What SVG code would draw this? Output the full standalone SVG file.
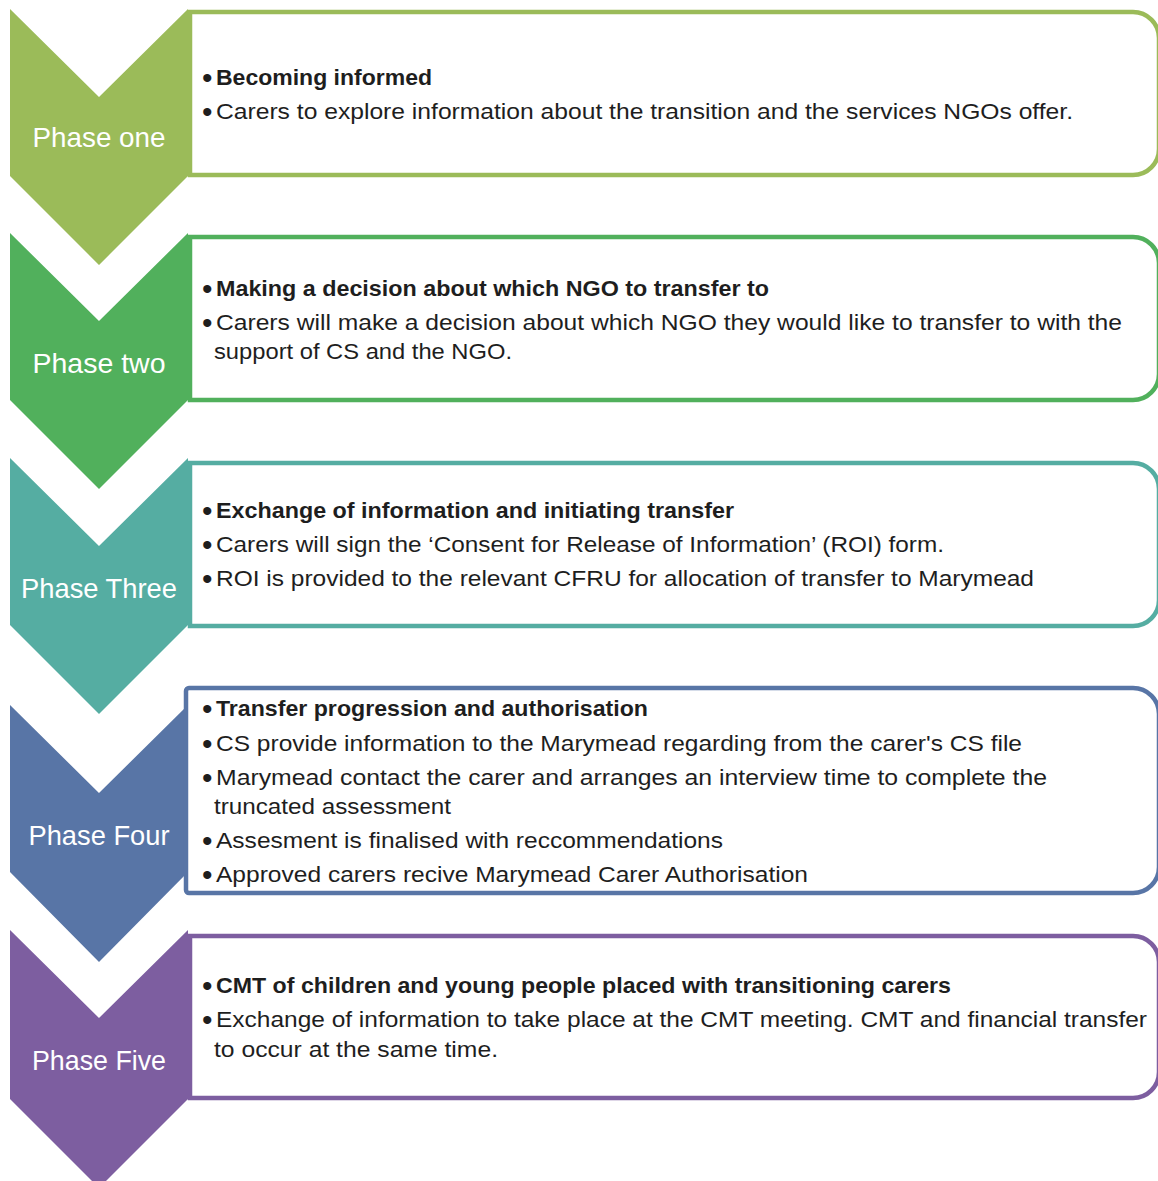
<svg xmlns="http://www.w3.org/2000/svg" width="1158" height="1181" viewBox="0 0 1158 1181">
  <style>
    .box { fill: #ffffff; stroke-width: 4.5; }
    .label { font-family: "Liberation Sans", Arial, sans-serif; font-size: 28px; fill: #ffffff; text-anchor: middle; }
    .b { font-family: "Liberation Sans", Arial, sans-serif; font-size: 30px; fill: #1e1e1e; }
    .t { font-family: "Liberation Sans", Arial, sans-serif; font-size: 22px; fill: #1e1e1e; }
    .hd { font-weight: bold; }
  </style>
  <rect width="1158" height="1181" fill="#ffffff"/>

  <!-- Phase one -->
  <g id="phase-one">
    <path class="box" stroke="#9bbb59" d="M190,12 H1133 A26,26 0 0 1 1159,38 V149 A26,26 0 0 1 1133,175 H190 Z"/>
    <path fill="#9bbb59" d="M10,9 L99,97 L188,9 V176 L99,265 L10,176 Z"/>
    <text class="label" x="99" y="147" textLength="133" lengthAdjust="spacingAndGlyphs">Phase one</text>
    <text class="b" x="202" y="88">•</text>
    <text class="t hd" x="216" y="85" textLength="216" lengthAdjust="spacingAndGlyphs">Becoming informed</text>
    <text class="b" x="202" y="122">•</text>
    <text class="t" x="216" y="119" textLength="857" lengthAdjust="spacingAndGlyphs">Carers to explore information about the transition and the services NGOs offer.</text>
  </g>

  <!-- Phase two -->
  <g id="phase-two">
    <path class="box" stroke="#51b05c" d="M190,237 H1133 A26,26 0 0 1 1159,263 V374 A26,26 0 0 1 1133,400 H190 Z"/>
    <path fill="#51b05c" d="M10,233 L99,321 L188,233 V400 L99,489 L10,400 Z"/>
    <text class="label" x="99" y="373" textLength="133" lengthAdjust="spacingAndGlyphs">Phase two</text>
    <text class="b" x="202" y="299">•</text>
    <text class="t hd" x="216" y="296" textLength="553" lengthAdjust="spacingAndGlyphs">Making a decision about which NGO to transfer to</text>
    <text class="b" x="202" y="333">•</text>
    <text class="t" x="216" y="330" textLength="906" lengthAdjust="spacingAndGlyphs">Carers will make a decision about which NGO they would like to transfer to with the</text>
    <text class="t" x="214" y="359" textLength="298" lengthAdjust="spacingAndGlyphs">support of CS and the NGO.</text>
  </g>

  <!-- Phase three -->
  <g id="phase-three">
    <path class="box" stroke="#55ada2" d="M190,463 H1133 A26,26 0 0 1 1159,489 V600 A26,26 0 0 1 1133,626 H190 Z"/>
    <path fill="#55ada2" d="M10,458 L99,546 L188,458 V625 L99,714 L10,625 Z"/>
    <text class="label" x="99" y="598" textLength="156" lengthAdjust="spacingAndGlyphs">Phase Three</text>
    <text class="b" x="202" y="521">•</text>
    <text class="t hd" x="216" y="518" textLength="518" lengthAdjust="spacingAndGlyphs">Exchange of information and initiating transfer</text>
    <text class="b" x="202" y="555">•</text>
    <text class="t" x="216" y="552" textLength="728" lengthAdjust="spacingAndGlyphs">Carers will sign the ‘Consent for Release of Information’ (ROI) form.</text>
    <text class="b" x="202" y="589">•</text>
    <text class="t" x="216" y="586" textLength="818" lengthAdjust="spacingAndGlyphs">ROI is provided to the relevant CFRU for allocation of transfer to Marymead</text>
  </g>

  <!-- Phase four -->
  <g id="phase-four">
    <path fill="#5875a6" d="M10,705 L99,793 L188,705 V872 L99,962 L10,872 Z"/>
    <path class="box" stroke="#5875a6" d="M189,688 H1133 A26,26 0 0 1 1159,714 V867 A26,26 0 0 1 1133,893 H189 A3,3 0 0 1 186,890 V691 A3,3 0 0 1 189,688 Z"/>
    <text class="label" x="99" y="845" textLength="141" lengthAdjust="spacingAndGlyphs">Phase Four</text>
    <text class="b" x="202" y="719">•</text>
    <text class="t hd" x="216" y="716" textLength="432" lengthAdjust="spacingAndGlyphs">Transfer progression and authorisation</text>
    <text class="b" x="202" y="754">•</text>
    <text class="t" x="216" y="751" textLength="806" lengthAdjust="spacingAndGlyphs">CS provide information to the Marymead regarding from the carer's CS file</text>
    <text class="b" x="202" y="788">•</text>
    <text class="t" x="216" y="785" textLength="831" lengthAdjust="spacingAndGlyphs">Marymead contact the carer and arranges an interview time to complete the</text>
    <text class="t" x="214" y="814" textLength="237" lengthAdjust="spacingAndGlyphs">truncated assessment</text>
    <text class="b" x="202" y="851">•</text>
    <text class="t" x="216" y="848" textLength="507" lengthAdjust="spacingAndGlyphs">Assesment is finalised with reccommendations</text>
    <text class="b" x="202" y="885">•</text>
    <text class="t" x="216" y="882" textLength="592" lengthAdjust="spacingAndGlyphs">Approved carers recive Marymead Carer Authorisation</text>
  </g>

  <!-- Phase five -->
  <g id="phase-five">
    <path class="box" stroke="#7d5ea0" d="M190,936 H1133 A26,26 0 0 1 1159,962 V1072 A26,26 0 0 1 1133,1098 H190 Z"/>
    <path fill="#7d5ea0" d="M10,930 L99,1018 L188,930 V1099 L99,1188 L10,1099 Z"/>
    <text class="label" x="99" y="1070" textLength="134" lengthAdjust="spacingAndGlyphs">Phase Five</text>
    <text class="b" x="202" y="996">•</text>
    <text class="t hd" x="216" y="993" textLength="735" lengthAdjust="spacingAndGlyphs">CMT of children and young people placed with transitioning carers</text>
    <text class="b" x="202" y="1030">•</text>
    <text class="t" x="216" y="1027" textLength="931" lengthAdjust="spacingAndGlyphs">Exchange of information to take place at the CMT meeting. CMT and financial transfer</text>
    <text class="t" x="214" y="1057" textLength="284" lengthAdjust="spacingAndGlyphs">to occur at the same time.</text>
  </g>

  <!-- connectors: none, the chevrons carry the flow -->
  <g id="connectors"></g>
</svg>
